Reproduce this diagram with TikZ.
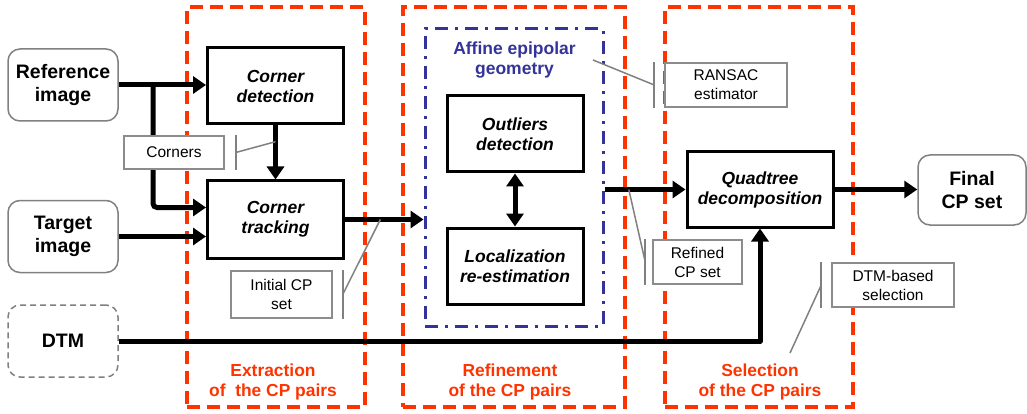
\documentclass[tikz,border=0pt]{standalone}
\usepackage{fontspec}
\setmainfont{Liberation Sans}
\usetikzlibrary{arrows.meta,calc}
\definecolor{stagered}{HTML}{FF3300}
\definecolor{geoblue}{HTML}{333399}
\definecolor{notegray}{HTML}{8C8C8C}

\begin{document}
\begin{tikzpicture}[x=1pt,y=-1pt,
  stage/.style={draw=stagered,line width=3.5pt,dash pattern=on 13pt off 7pt,minimum width=#1,minimum height=400pt},
  stagelabel/.style={text=stagered,align=center,font={\fontsize{17.4}{20}\selectfont\bfseries}},
  source/.style={draw=gray,line width=1.5pt,rounded corners=12pt,minimum width=110pt,minimum height=72pt,align=center,font={\fontsize{19.5}{23}\selectfont\bfseries}},
  task/.style={draw,line width=3pt,fill=white,minimum width=136pt,minimum height=76pt,align=center,font={\fontsize{17.5}{20}\selectfont\bfseries\itshape}},
  note/.style={draw=notegray,line width=1.5pt,fill=white,inner sep=0pt,align=center,font={\fontsize{15.5}{19}\selectfont}},
  notebar/.style={draw=gray,line width=2pt},
  noteline/.style={draw=gray,line width=1.5pt},
  flow/.style={line width=5pt,-{Triangle[length=13pt,width=17pt]}}]
\useasboundingbox (0,0) rectangle (1027,414);

% stages
\node[stage=178pt] (ext) at (276,207) {};
\node[stage=222pt] (refi) at (514,207) {};
\node[stage=188pt] (sel) at (759,207) {};
\node[stagelabel] (extlab) at (273,382) {Extraction\\of\ \ the CP pairs};
\node[stagelabel] (refilab) at (510,382) {Refinement\\of the CP pairs};
\node[stagelabel] (sellab) at (760,382) {Selection\\of the CP pairs};

% affine epipolar geometry
\node[draw=geoblue,line width=3pt,dash pattern=on 13pt off 7pt on 3pt off 7pt,minimum width=178pt,minimum height=297pt] (aff) at (514,177.5) {};
\node[text=geoblue,align=center,font={\fontsize{17.5}{20}\selectfont\bfseries}] (afflab) at (514.5,60) {Affine epipolar\\geometry};

% inputs and output
\node[source] (ref) at (63,85) {Reference\\image};
\node[source] (tgt) at (63,236.5) {Target\\image};
\node[source,dash pattern=on 6pt off 4pt] (dtm) at (63,341) {DTM};
\node[source,minimum width=108pt,minimum height=70pt] (final) at (972,190) {Final\\CP set};

% processing steps
\node[task] (cdet) at (275.5,86) {Corner\\detection};
\node[task,minimum height=77pt] (ctrk) at (275.5,219.5) {Corner\\tracking};
\node[task] (outl) at (515,134) {Outliers\\detection};
\node[task] (loc) at (515,266) {Localization\\re-estimation};
\node[task,minimum width=146pt,minimum height=75pt] (quad) at (760,189.5) {Quadtree\\decomposition};

% connectors
\coordinate (br) at (153,85);
\coordinate (trkin) at ($(ctrk.north west)!0.35!(ctrk.south west)$);
\draw[flow] (ref.east) -- (ref.east -| cdet.west);
\draw[flow,rounded corners=4pt] (br) |- (trkin);
\draw[flow] (tgt.east) -- (tgt.east -| ctrk.west);
\draw[flow] (cdet.south) -- (ctrk.north);
\draw[flow] (ctrk.east) -- (ctrk.east -| aff.west);
\draw[line width=5pt,{Triangle[length=13pt,width=17pt]}-{Triangle[length=13pt,width=17pt]}] (outl.south) -- (loc.north);
\draw[flow] (aff.east |- quad.west) -- (quad.west);
\draw[flow] (quad.east) -- (quad.east -| final.west);
\draw[flow,line join=round] (dtm.east) -| (quad.south);

% callouts
\coordinate (crnpt) at ($(cdet.south)!0.3!(ctrk.north)$);
\coordinate (inipt) at ($(ctrk.east)!0.45!(ctrk.east -| aff.west)$);
\coordinate (ranpt) at (593,60);
\coordinate (rfdpt) at ($(aff.east |- quad.west)!0.3!(quad.west)$);
\coordinate (dselpt) at (790,353);

\node[note,minimum width=100pt,minimum height=33pt] (crn) at (174,152.5) {Corners};
\draw[notebar] ([xshift=11pt]crn.north east) -- ([xshift=11pt]crn.south east);
\draw[noteline] ([xshift=11pt]crn.east) -- (crnpt);

\node[note,minimum width=101pt,minimum height=47pt] (ini) at (281.5,294.5) {Initial CP\\set};
\draw[notebar] ([xshift=10pt]ini.north east) -- ([xshift=10pt]ini.south east);
\draw[noteline] ([xshift=10pt]ini.east) -- (inipt);

\node[note,minimum width=122pt,minimum height=44pt] (ran) at (726,85) {RANSAC\\estimator};
\draw[notebar] ([xshift=-10pt]ran.north west) -- ([xshift=-10pt]ran.south west);
\draw[noteline] (ranpt) -- ([xshift=-10pt]ran.west);

\node[note,minimum width=89pt,minimum height=44pt] (rfd) at (697.5,262) {Refined\\CP set};
\draw[notebar] ([xshift=-7pt]rfd.north west) -- ([xshift=-7pt]rfd.south west);
\draw[noteline] (rfdpt) -- ([xshift=-7pt]rfd.west);

\node[note,minimum width=122pt,minimum height=44pt] (dsel) at (893,285) {DTM-based\\selection};
\draw[notebar] ([xshift=-10pt]dsel.north west) -- ([xshift=-10pt]dsel.south west);
\draw[noteline] ([xshift=-10pt]dsel.west) -- (dselpt);
\end{tikzpicture}
\end{document}
